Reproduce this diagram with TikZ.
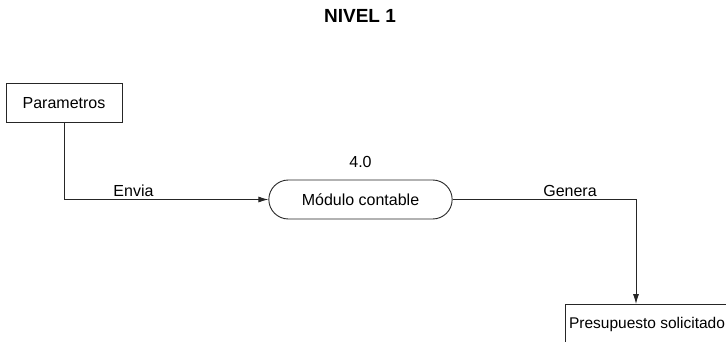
\documentclass[tikz,border=0pt]{standalone}
\usepackage{fontspec}
\setmainfont{Liberation Sans}
\usepackage{tikz}
\usetikzlibrary{positioning, shapes.misc, arrows.meta, calc}
\definecolor{ink}{HTML}{262626}

\begin{document}
\begin{tikzpicture}[
  x=1pt, y=-1pt,
  font=\fontsize{16}{19}\selectfont,
  entity/.style={draw=ink, line width=0.9pt, minimum height=39pt, inner sep=4pt},
  proc/.style={draw=ink, line width=0.9pt, rounded rectangle,
               minimum width=190pt, minimum height=39pt},
  flow/.style={draw=ink, line width=0.9pt, -{Latex[length=10pt, width=6pt]}},
  lbl/.style={anchor=south, inner sep=2pt}
]
\useasboundingbox (0,0) rectangle (726,341);

\node[font=\fontsize{19}{22}\selectfont\bfseries] (title) at (360,16) {NIVEL 1};

\node[entity, minimum width=116pt] (param) at (64,103) {Parametros};
\node[proc] (modulo) at (360.5,199.5) {Módulo contable};
\node[above=8pt of modulo] (modnum) {4.0};
\node[entity, minimum width=162pt, font=\fontsize{15.5}{18}\selectfont] (presup) at (647,324) {Presupuesto solicitado};

% flujos de datos
\draw[flow] (param.south) |- node[lbl, pos=0.67] {Envia} (modulo.west);
\draw[flow] (modulo.east) -| node[lbl, pos=0.32] {Genera} ([xshift=-11pt]presup.north);
\end{tikzpicture}
\end{document}
